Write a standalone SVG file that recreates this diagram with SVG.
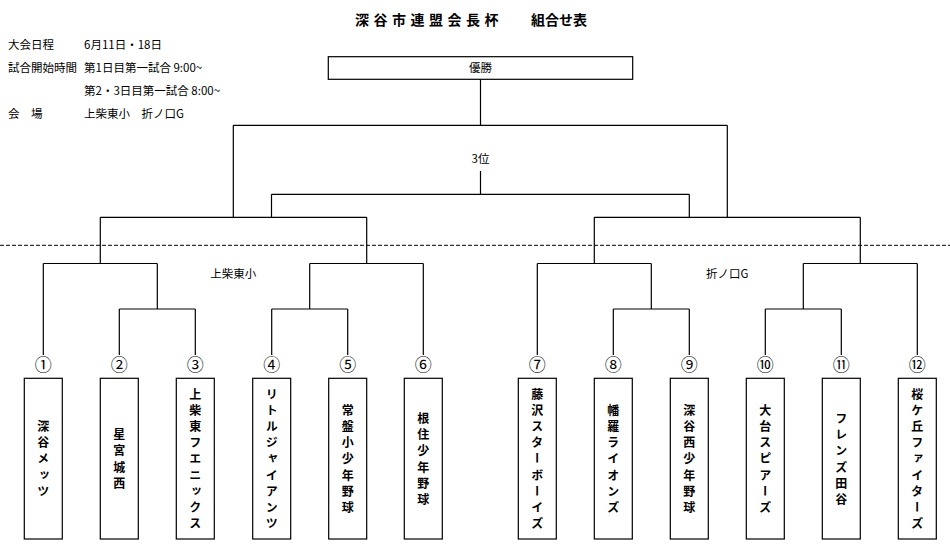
<svg xmlns="http://www.w3.org/2000/svg" width="950" height="550" viewBox="0 0 950 550">
<style>
text{font-family:"Noto Sans CJK JP","Liberation Sans",sans-serif;fill:#000}
.info{font-size:11.5px}
.title{font-size:14px;font-weight:bold}
.lbl{font-size:11.5px;text-anchor:middle}
.num{font-size:17px;text-anchor:middle}
.team{font-size:12px;font-weight:bold;text-anchor:middle;writing-mode:vertical-rl;letter-spacing:4.2px}
.ln{fill:none;stroke:#000;stroke-width:1.2}
.box{fill:#fff;stroke:#000;stroke-width:1.2}
.dash{stroke:#000;stroke-width:1;stroke-dasharray:4 2}
</style>
<rect width="950" height="550" fill="#fff"/>
<g id="header">
<text class="title" x="355" y="25" letter-spacing="4.5">深谷市連盟会長杯</text>
<text class="title" x="531" y="25">組合せ表</text>
<text class="info" x="8" y="48.5">大会日程</text>
<text class="info" x="84" y="48.5">6月11日・18日</text>
<text class="info" x="8" y="71.5">試合開始時間</text>
<text class="info" x="84" y="71.5">第1日目第一試合 9:00~</text>
<text class="info" x="84" y="94.5">第2・3日目第一試合 8:00~</text>
<text class="info" x="8" y="117.5">会　場</text>
<text class="info" x="84" y="117.5">上柴東小　折ノ口G</text>
</g>
<line class="dash" x1="0" y1="245.3" x2="950" y2="245.3"/>
<g id="connectors" class="ln">
<path d="M480.5 79.3V125.3M233.3 125.3H727.3M233.3 125.3V217.3M727.3 125.3V217.3"/>
<path d="M480.5 171V194.3M271.5 194.3H689.3M271.5 194.3V217.3M689.3 194.3V217.3"/>
<path d="M100.3 217.3H366.7M100.3 217.3V263.5M366.7 217.3V263.5"/>
<path d="M594.3 217.3H860.3M594.3 217.3V263.5M860.3 217.3V263.5"/>
<path d="M43.3 263.5H157.3M43.3 263.5V355M157.3 263.5V309M119.3 309H195.3M119.3 309V355M195.3 309V355"/>
<path d="M309.7 263.5H423.3M423.3 263.5V355M309.7 263.5V309M271.7 309H347.7M271.7 309V355M347.7 309V355"/>
<path d="M537.3 263.5H651.3M537.3 263.5V355M651.3 263.5V309M613.3 309H689.3M613.3 309V355M689.3 309V355"/>
<path d="M803.3 263.5H917.3M917.3 263.5V355M803.3 263.5V309M765.3 309H841.3M765.3 309V355M841.3 309V355"/>
</g>
<g id="final">
<rect class="box" x="328.3" y="56.7" width="304.4" height="22.6"/>
<text class="lbl" x="480.5" y="72">優勝</text>
</g>
<g id="third"><text class="lbl" x="480.5" y="162.5">3位</text></g>
<g id="venue-a"><text class="lbl" x="233.3" y="277.5">上柴東小</text></g>
<g id="venue-b"><text class="lbl" x="727.3" y="277.5">折ノ口G</text></g>
<g id="t1"><text class="num" x="43.3" y="371">①</text><rect class="box" x="24.3" y="378.3" width="38" height="160.7"/><text class="team" x="43.3" y="461">深谷メッツ</text></g>
<g id="t2"><text class="num" x="119.3" y="371">②</text><rect class="box" x="100.3" y="378.3" width="38" height="160.7"/><text class="team" x="119.3" y="461">星宮城西</text></g>
<g id="t3"><text class="num" x="195.3" y="371">③</text><rect class="box" x="176.3" y="378.3" width="38" height="160.7"/><text class="team" x="195.3" y="461">上柴東フエニックス</text></g>
<g id="t4"><text class="num" x="271.7" y="371">④</text><rect class="box" x="252.7" y="378.3" width="38" height="160.7"/><text class="team" x="271.7" y="461">リトルジャイアンツ</text></g>
<g id="t5"><text class="num" x="347.7" y="371">⑤</text><rect class="box" x="328.7" y="378.3" width="38" height="160.7"/><text class="team" x="347.7" y="461">常盤小少年野球</text></g>
<g id="t6"><text class="num" x="423.3" y="371">⑥</text><rect class="box" x="404.3" y="378.3" width="38" height="160.7"/><text class="team" x="423.3" y="461">根住少年野球</text></g>
<g id="t7"><text class="num" x="537.3" y="371">⑦</text><rect class="box" x="518.3" y="378.3" width="38" height="160.7"/><text class="team" x="537.3" y="461">藤沢スターボーイズ</text></g>
<g id="t8"><text class="num" x="613.3" y="371">⑧</text><rect class="box" x="594.3" y="378.3" width="38" height="160.7"/><text class="team" x="613.3" y="461">幡羅ライオンズ</text></g>
<g id="t9"><text class="num" x="689.3" y="371">⑨</text><rect class="box" x="670.3" y="378.3" width="38" height="160.7"/><text class="team" x="689.3" y="461">深谷西少年野球</text></g>
<g id="t10"><text class="num" x="765.3" y="371">⑩</text><rect class="box" x="746.3" y="378.3" width="38" height="160.7"/><text class="team" x="765.3" y="461">大台スピアーズ</text></g>
<g id="t11"><text class="num" x="841.3" y="371">⑪</text><rect class="box" x="822.3" y="378.3" width="38" height="160.7"/><text class="team" x="841.3" y="461">フレンズ田谷</text></g>
<g id="t12"><text class="num" x="917.3" y="371">⑫</text><rect class="box" x="898.3" y="378.3" width="38" height="160.7"/><text class="team" x="917.3" y="461">桜ケ丘ファイターズ</text></g>
</svg>
